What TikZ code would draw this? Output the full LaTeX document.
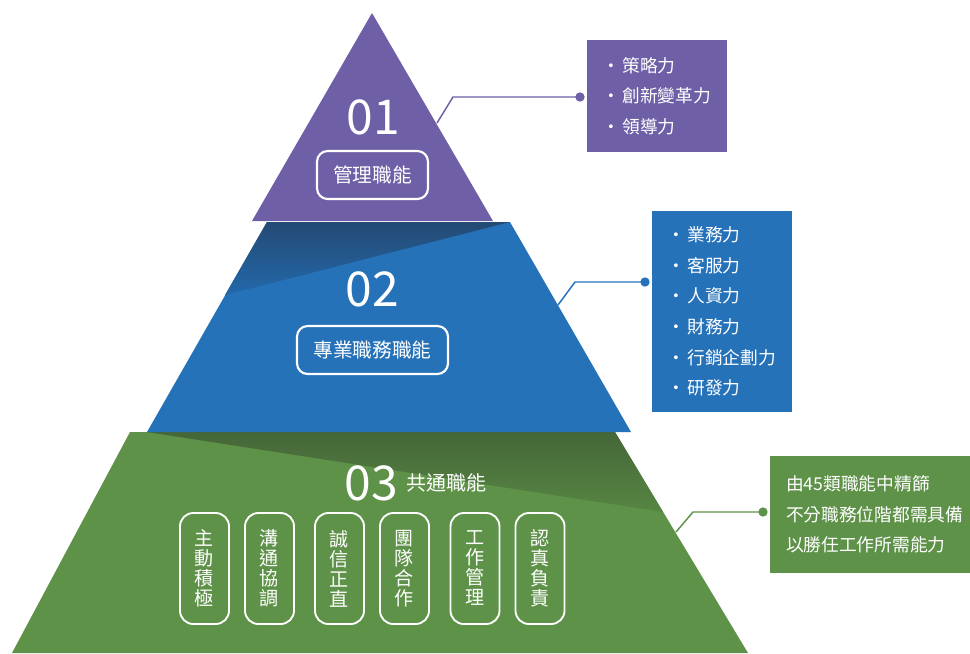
\documentclass[tikz,border=0pt]{standalone}
\usepackage{fontspec}
\setmainfont{Noto Sans CJK TC}
\usetikzlibrary{positioning}

\definecolor{mgtpurple}{RGB}{111,95,167}
\definecolor{probblue}{RGB}{38,114,185}
\definecolor{bluedark}{RGB}{36,74,116}
\definecolor{comgreen}{RGB}{94,146,73}
\definecolor{greendark}{RGB}{70,102,56}

\newcommand{\itm}[1]{・\hspace{2pt}#1}

\begin{document}
\begin{tikzpicture}[x=0.75pt,y=-0.75pt,
  lvlbox/.style={draw=white,line width=1.6pt,rounded corners=8pt,text=white,minimum height=36pt,font=\fontsize{14.8}{15}\selectfont},
  pill/.style={draw=white,line width=1.4pt,rounded corners=10pt,minimum width=36.75pt,minimum height=83.25pt,text=white,align=center,font=\fontsize{14.3}{15}\selectfont},
  infobox/.style={text=white,align=left,inner xsep=11.25pt,inner ysep=0pt,font=\fontsize{13.3}{23}\selectfont},
  dot/.style={circle,inner sep=0pt,minimum size=7pt},
  bignum/.style={text=white,inner sep=0pt,font=\fontsize{36}{36}\selectfont}]
  \useasboundingbox (0,0) rectangle (970,653);

  % tiers
  \fill[comgreen] (130,432) -- (615,432) -- (748,653) -- (12,653) -- cycle;
  \shade[top color=greendark, bottom color=comgreen!92!black] (147,432) -- (615,432) -- (663,512) -- cycle;
  \fill[probblue] (267,222) -- (510,222) -- (631,432) -- (147,432) -- cycle;
  \shade[top color=bluedark, bottom color=probblue!92!black] (267,222) -- (510,222) -- (225,295) -- cycle;
  \fill[mgtpurple] (372,13) -- (493,221) -- (252,221) -- cycle;

  % labels on the pyramid
  \node[bignum] (n1) at (373,117) {01};
  \node[lvlbox,minimum width=83.25pt] (l1) at (372.5,175) {管理職能};
  \node[bignum] (n2) at (372.5,289) {02};
  \node[lvlbox,minimum width=113.25pt] (l2) at (372.5,350) {專業職務職能};
  \node[bignum] (n3) at (371,483.5) {03};
  \node[text=white,font=\fontsize{15}{15}\selectfont] (l3) at (446,483) {共通職能};

  \node[pill] (p1) at (204.5,568.5) {主\\動\\積\\極};
  \node[pill] (p2) at (269.5,568.5) {溝\\通\\協\\調};
  \node[pill] (p3) at (339.5,568.5) {誠\\信\\正\\直};
  \node[pill] (p4) at (404.5,568.5) {團\\隊\\合\\作};
  \node[pill] (p5) at (475,568.5) {工\\作\\管\\理};
  \node[pill] (p6) at (540,568.5) {認\\真\\負\\責};

  % info boxes
  \node[infobox,fill=mgtpurple,text width=82.5pt,minimum height=84pt] (b1) at (657,96)
    {\itm{策略力}\\\itm{創新變革力}\\\itm{領導力}};
  \node[infobox,fill=probblue,text width=82.5pt,minimum height=150.75pt] (b2) at (722,311.5)
    {\itm{業務力}\\\itm{客服力}\\\itm{人資力}\\\itm{財務力}\\\itm{行銷企劃力}\\\itm{研發力}};
  \node[infobox,fill=comgreen,inner xsep=12pt,text width=126pt,minimum height=87.75pt] (b3) at (870,514.5)
    {由45類職能中精篩\\不分職務位階都需具備\\以勝任工作所需能力};

  % connectors
  \coordinate (s1) at (437,123);
  \coordinate (k1) at (453,97);
  \node[dot,fill=mgtpurple] (d1) at (580,97) {};
  \draw[mgtpurple,line width=1.1pt] (s1) -- (k1) -- (d1.center);

  \coordinate (s2) at (558,305);
  \coordinate (k2) at (575,282);
  \node[dot,fill=probblue] (d2) at (645,282) {};
  \draw[probblue,line width=1.1pt] (s2) -- (k2) -- (d2.center);

  \coordinate (s3) at (676,532);
  \coordinate (k3) at (693,512);
  \node[dot,fill=comgreen] (d3) at (763,512) {};
  \draw[comgreen,line width=1.1pt] (s3) -- (k3) -- (d3.center);
\end{tikzpicture}
\end{document}
